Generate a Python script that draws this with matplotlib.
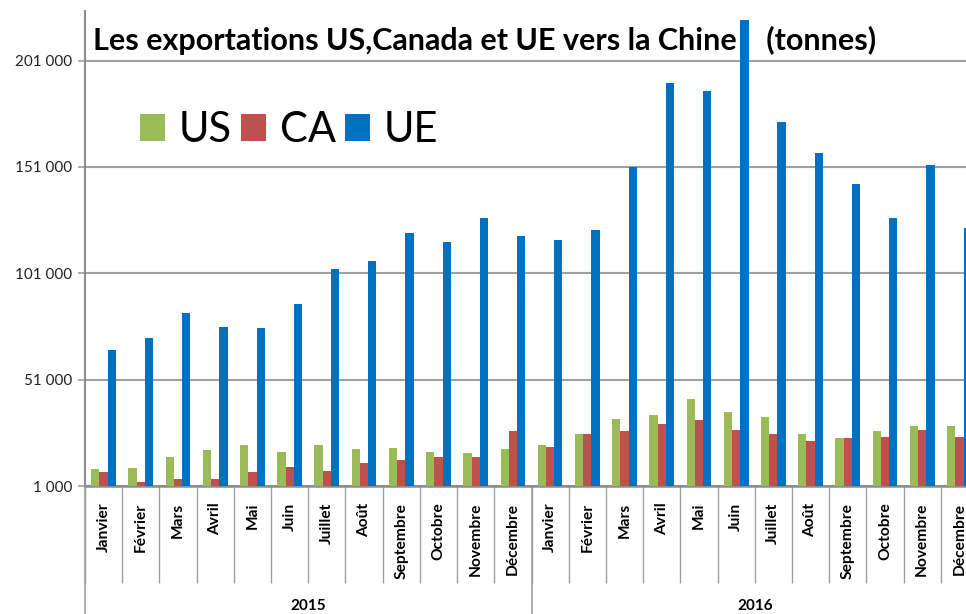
import matplotlib.pyplot as plt
from matplotlib import transforms
import numpy as np

plt.rcParams['font.family'] = ['Lato', 'DejaVu Sans']

# data (tonnes)
mois = ['Janvier', 'Février', 'Mars', 'Avril', 'Mai', 'Juin', 'Juillet', 'Août',
        'Septembre', 'Octobre', 'Novembre', 'Décembre']
annees = ['2015', '2016']
us = [9000, 9500, 14600, 17900, 20300, 17000, 20300, 18400, 19000, 17000, 16500, 18400,
      20300, 25400, 32600, 34400, 41700, 35900, 33300, 25400, 23600, 26900, 29300, 29300]
ca = [7600, 2900, 4300, 4300, 7600, 10100, 8000, 12000, 13200, 14600, 14600, 26900,
      19200, 25400, 26900, 30000, 32000, 27500, 25400, 22300, 23600, 24200, 27500, 24200]
ue = [64900, 70700, 82300, 75900, 75300, 86400, 103000, 106800, 119900, 115700, 127000, 118500,
      116600, 121200, 150900, 190300, 186500, 220000, 172100, 157400, 143100, 127000, 152000, 122400]

labels = mois * len(annees)
n = len(labels)
x = np.arange(n) + 0.5
w = 0.222

fig = plt.figure(figsize=(9.66, 6.14), dpi=100)
ax = fig.add_axes([85/966, 1 - 486/614, 893/966, 475/614])

ax.bar(x - w, us, w, color='#9BBB59', label='US', zorder=3)
ax.bar(x, ca, w, color='#C0504D', label='CA', zorder=3)
ax.bar(x + w, ue, w, color='#0070C0', label='UE', zorder=3)

ax.set_xlim(0, n)
ax.set_ylim(1000, 224300)
ax.set_yticks([1000, 51000, 101000, 151000, 201000])
ax.set_yticklabels(['1 000', '51 000', '101 000', '151 000', '201 000'], fontsize=11, color='#222222')
ax.yaxis.grid(True, color='#A0A0A0', linewidth=1.5, zorder=0)
ax.tick_params(axis='y', length=5, color='#A0A0A0', width=1.2, pad=4)

ax.set_xticks(x)
ax.set_xticklabels(labels, rotation=90, fontsize=11.2, fontweight='bold', va='top')
ax.set_xticks(np.arange(n + 1), minor=True)
ax.tick_params(axis='x', which='major', length=0, pad=12)
ax.tick_params(axis='x', which='minor', length=70, color='#A0A0A0', width=1)

for s in ['top', 'right']:
    ax.spines[s].set_visible(False)
ax.spines['left'].set_color('#8C8C8C')
ax.spines['left'].set_linewidth(1.5)
ax.spines['bottom'].set_color('#8C8C8C')
ax.spines['bottom'].set_linewidth(1.8)

# year separators running to the bottom of the figure
tr = transforms.blended_transform_factory(ax.transData, fig.transFigure)
for xb in [0, 12, 24]:
    ax.plot([xb, xb], [0, 1 - 486/614], transform=tr, color='#A0A0A0', lw=1.2, clip_on=False)
for k, a in enumerate(annees):
    ax.text(6 + 12 * k, 1 - 606/614, a, transform=tr, ha='center', va='center',
            fontsize=11, fontweight='bold')

ax.text(0.009, 0.937, 'Les exportations US,Canada et UE vers la Chine    (tonnes)',
        transform=ax.transAxes, fontsize=22, fontweight='bold', ha='left', va='center')

leg = ax.legend(loc='center left', bbox_to_anchor=(0.062, 0.749), ncol=3, frameon=False,
                fontsize=30, handlelength=0.6, handleheight=0.6, handletextpad=0.33,
                columnspacing=0.22, borderpad=0, borderaxespad=0)

fig.savefig('out.png', dpi=100)
